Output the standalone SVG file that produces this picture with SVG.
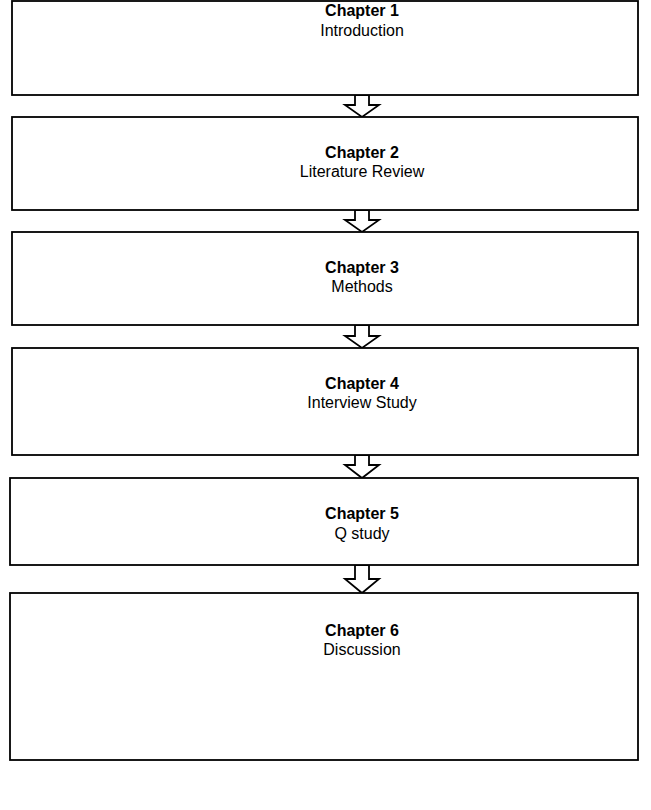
<svg xmlns="http://www.w3.org/2000/svg" width="651" height="810" viewBox="0 0 651 810">
  <style>
    .box { fill: #ffffff; stroke: #000000; stroke-width: 1.8; }
    .arrow { fill: #ffffff; stroke: #000000; stroke-width: 1.8; stroke-linejoin: miter; }
    .title { font-family: "Liberation Sans", Arial, sans-serif; font-size: 16px; font-weight: bold; fill: #000; text-anchor: middle; }
    .sub { font-family: "Liberation Sans", Arial, sans-serif; font-size: 16px; fill: #000; text-anchor: middle; }
  </style>
  <rect width="651" height="810" fill="#ffffff"/>

  <!-- hollow block arrows between chapters -->
  <g id="connectors">
    <path class="arrow" d="M355,95 V105 H345 L362,117 L379,105 H369 V95 Z"/>
    <path class="arrow" d="M355,210 V220 H345 L362,232 L379,220 H369 V210 Z"/>
    <path class="arrow" d="M355,325 V336 H345 L362,348 L379,336 H369 V325 Z"/>
    <path class="arrow" d="M355,455 V465 H345 L362,478 L379,465 H369 V455 Z"/>
    <path class="arrow" d="M355,565 V579 H345 L362,593 L379,579 H369 V565 Z"/>
  </g>

  <g id="chapter1">
    <rect class="box" x="12" y="1" width="626" height="94"/>
    <text class="title" x="362" y="16">Chapter 1</text>
    <text class="sub" x="362" y="36">Introduction</text>
  </g>
  <g id="chapter2">
    <rect class="box" x="12" y="117" width="626" height="93"/>
    <text class="title" x="362" y="158">Chapter 2</text>
    <text class="sub" x="362" y="177">Literature Review</text>
  </g>
  <g id="chapter3">
    <rect class="box" x="12" y="232" width="626" height="93"/>
    <text class="title" x="362" y="273">Chapter 3</text>
    <text class="sub" x="362" y="292">Methods</text>
  </g>
  <g id="chapter4">
    <rect class="box" x="12" y="348" width="626" height="107"/>
    <text class="title" x="362" y="389">Chapter 4</text>
    <text class="sub" x="362" y="408">Interview Study</text>
  </g>
  <g id="chapter5">
    <rect class="box" x="10" y="478" width="628" height="87"/>
    <text class="title" x="362" y="519">Chapter 5</text>
    <text class="sub" x="362" y="539">Q study</text>
  </g>
  <g id="chapter6">
    <rect class="box" x="10" y="593" width="628" height="167"/>
    <text class="title" x="362" y="636">Chapter 6</text>
    <text class="sub" x="362" y="655">Discussion</text>
  </g>
</svg>
